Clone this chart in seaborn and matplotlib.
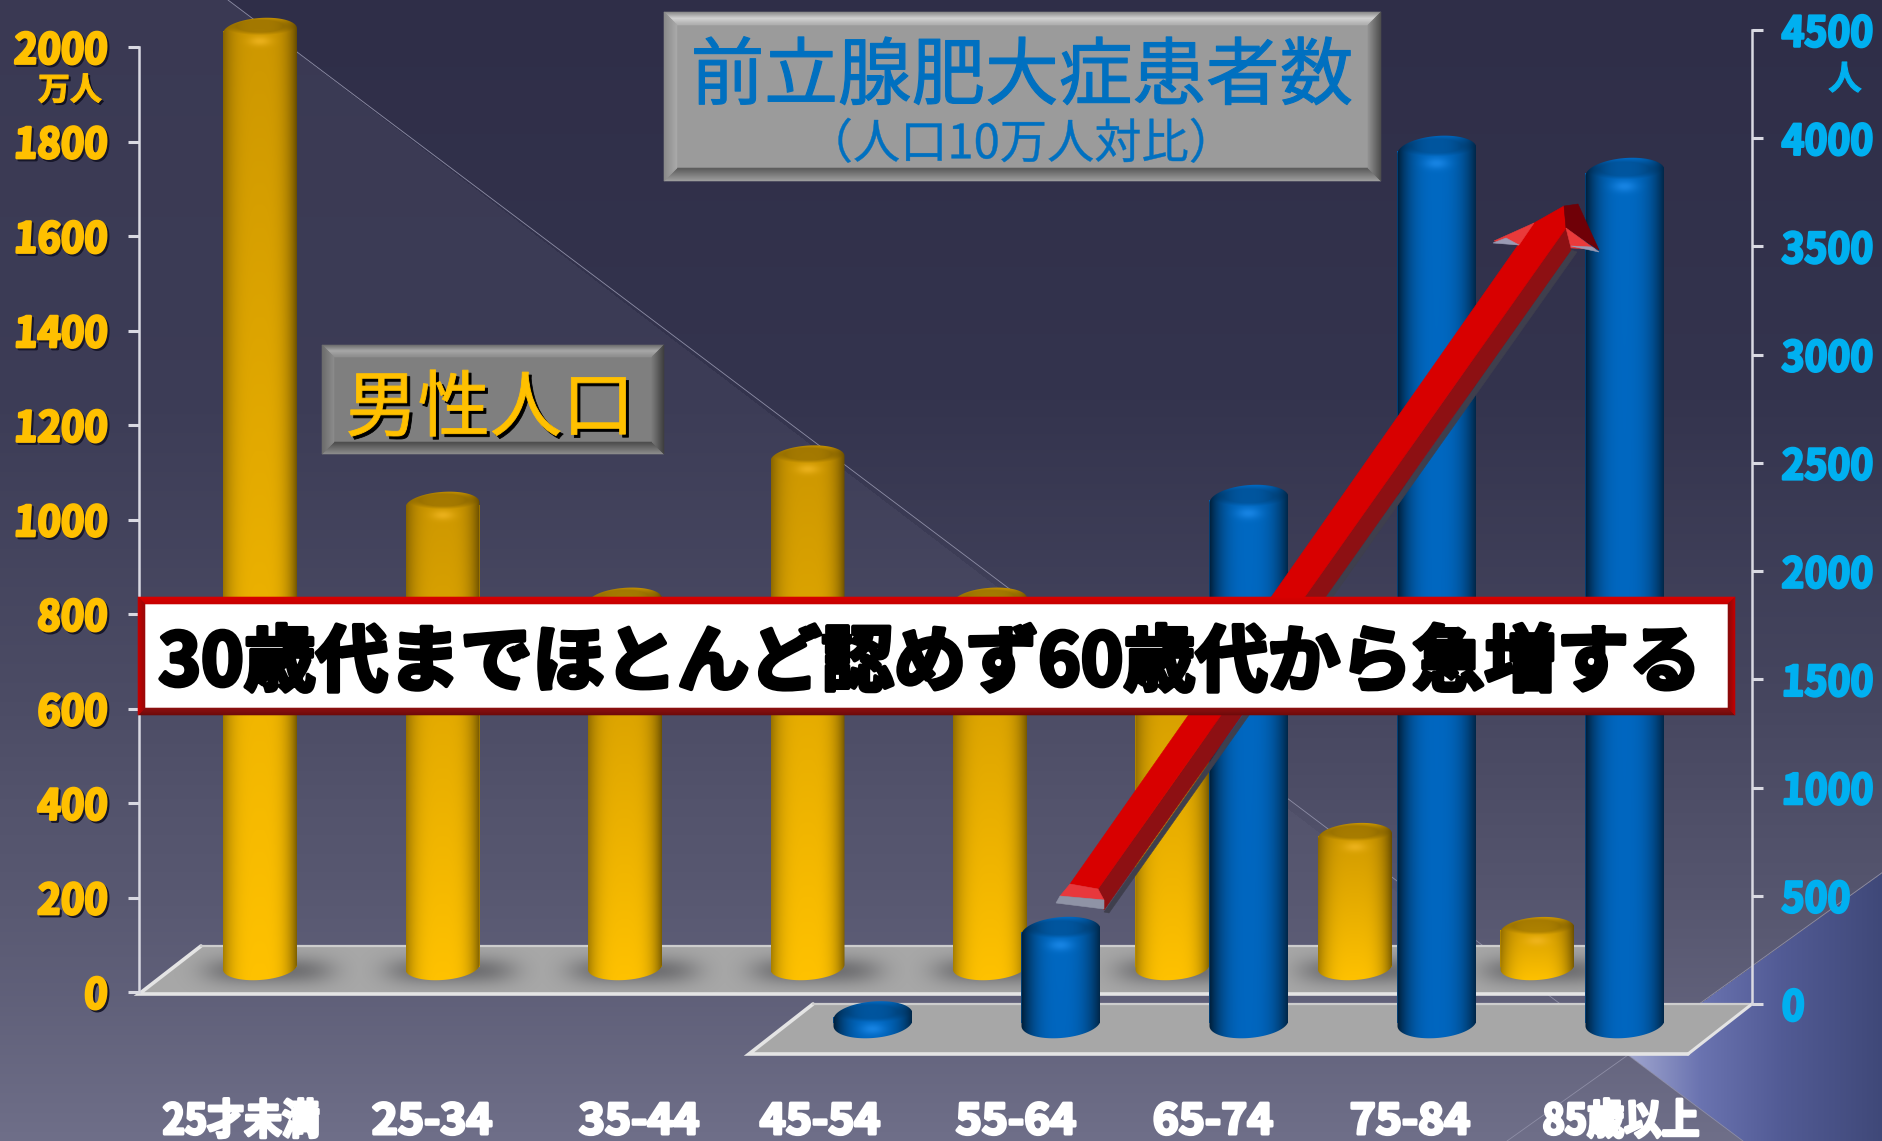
import numpy as np
import pandas as pd
import matplotlib
matplotlib.use("Agg")
import matplotlib.pyplot as plt
import seaborn as sns
from matplotlib.patches import Polygon, PathPatch, Rectangle
from matplotlib.path import Path
from matplotlib.patheffects import AbstractPathEffect
from matplotlib.transforms import Affine2D

# ---- data -------------------------------------------------------------
age_groups = ["25才未満", "25-34", "35-44", "45-54", "55-64", "65-74", "75-84", "85歳以上"]
male_population = [1981, 978, 775, 1076, 775, 680, 277, 78]          # 万人
patient_rate = [np.nan, np.nan, np.nan, 30, 420, 2416, 4029, 3927]   # 人 / 10万人
population_ticks = list(range(0, 2001, 200))
rate_ticks = list(range(0, 4501, 500))
age_label_x = [241, 432, 639, 820, 1016, 1213, 1410, 1621]

title_text = "前立腺肥大症患者数"
subtitle_text = "（人口10万人対比）"
population_box_text = "男性人口"
banner_text = "30歳代までほとんど認めず60歳代から急増する"

# ---- canvas -----------------------------------------------------------
W, H = 1883, 1141
CJK = "Noto Sans CJK JP"
sns.set_style("white", {"axes.facecolor": "none"})
plt.rcParams["font.family"] = [CJK, "DejaVu Sans"]
fig = plt.figure(figsize=(W / 100, H / 100), dpi=100)


class Glyphs(AbstractPathEffect):
    """Redraws text outlines condensed, slanted, thickened or offset."""

    def __init__(self, sx=1.0, skew=0.0, lw=0.0, color=None, dx=0.0, dy=0.0, anchor="center"):
        self.sx, self.skew, self.lw, self.color = sx, skew, lw, color
        self.dx, self.dy, self.anchor = dx, dy, anchor

    def draw_path(self, renderer, gc, tpath, affine, rgbFace=None):
        ext = tpath.get_extents()
        a = {"left": ext.x0, "right": ext.x1, "center": (ext.x0 + ext.x1) / 2}[self.anchor]
        local = Affine2D().translate(-a, 0).scale(self.sx, 1).skew_deg(self.skew, 0).translate(a, 0)
        trans = local + affine + Affine2D().translate(self.dx, self.dy)
        face = rgbFace if self.color is None else matplotlib.colors.to_rgba(self.color)
        g = renderer.new_gc()
        g.copy_properties(gc)
        g.set_linewidth(self.lw)
        g.set_foreground(face)
        g.set_joinstyle("round")
        renderer.draw_path(g, tpath, trans, face)
        g.restore()


def pixel_axes(z):
    ax = fig.add_axes([0, 0, 1, 1], zorder=z)
    ax.set_xlim(0, W)
    ax.set_ylim(H, 0)
    ax.set_axis_off()
    return ax


def hex_rgb(c):
    return np.array(matplotlib.colors.to_rgb(c))


# ---- backdrop ---------------------------------------------------------
ax_bg = pixel_axes(0)
yy, xx = np.mgrid[0:H, 0:W]
stops_y = [0, 400, 700, 900, 1141]
stops_c = np.array([hex_rgb(c) for c in ["#2f2e48", "#34344e", "#46465f", "#56566f", "#6f6f89"]])
bg = np.dstack([np.interp(yy, stops_y, stops_c[:, i]) for i in range(3)])
left_of_diagonal = xx < 228 + yy / 0.763
lift = np.interp(yy, [0, 800, 1000], [0.045, 0.02, 0.0])
bg[left_of_diagonal] += lift[left_of_diagonal][:, None]
apex_x, apex_y = 1628, 1055
corner = (yy >= apex_y - (xx - apex_x) * 183 / 255) & (xx >= apex_x + (yy - apex_y) * 115 / 86)
corner_c = np.dstack([np.interp(xx, [1628, 1700, 1780, 1883],
                                [hex_rgb(c)[i] for c in ["#a0a6cf", "#6a73b0", "#525b95", "#3f4878"]])
                      for i in range(3)])
bg[corner] = corner_c[corner]
ax_bg.imshow(np.clip(bg, 0, 1), extent=(0, W, H, 0), aspect="auto", zorder=0)
for seg in [((228, 0), (apex_x, apex_y)), ((apex_x, apex_y), (1883, 872)),
            ((apex_x, apex_y), (1743, 1141)), ((apex_x, apex_y), (1507, 1141))]:
    ax_bg.plot(*zip(*seg), color="#8e8ea6", lw=0.6, zorder=1)


def floor(ax, pts, z=2):
    ax.add_patch(Polygon(pts, closed=True, fc="#a7a7a7", ec="none", zorder=z))
    bl, br, fr, fl = pts
    ax.plot([bl[0], fl[0], fr[0]], [bl[1], fl[1], fr[1]], color="#e4e4e4", lw=2.6, zorder=z + 1,
            solid_joinstyle="miter")
    ax.plot([bl[0], br[0]], [bl[1], br[1]], color="#cdcdcd", lw=1.6, zorder=z + 1)
    ax.plot([br[0], fr[0]], [br[1], fr[1]], color="#e4e4e4", lw=2.2, zorder=z + 1)


back_floor = [(201, 946), (1625, 946), (1600, 994), (139, 994)]
floor(ax_bg, back_floor)

# ---- left scale -------------------------------------------------------
spine_c = "#d9d9e2"
POP_Y0, POP_TOP = 992, 47
ax_pop_scale = fig.add_axes([139 / W, (H - POP_Y0) / H, 20 / W, (POP_Y0 - POP_TOP) / H], zorder=1)
ax_pop_scale.set_ylim(0, 2000)
ax_pop_scale.set_xticks([])
ax_pop_scale.set_yticks(population_ticks)
ax_pop_scale.tick_params(axis="y", left=True, length=8, width=2.2, color=spine_c, pad=15,
                         labelsize=30, labelcolor="#ffc000")
sns.despine(ax=ax_pop_scale, bottom=True)
ax_pop_scale.spines["left"].set_color(spine_c)
ax_pop_scale.spines["left"].set_linewidth(1.8)
for lab in ax_pop_scale.get_yticklabels():
    lab.set_fontweight("bold")
    lab.set_path_effects([Glyphs(0.95, 3, 2.0, "#17172a", 2, -2, "right"),
                          Glyphs(0.95, 3, 2.0, None, 0, 0, "right")])

# ---- right scale ------------------------------------------------------
RATE_Y0, RATE_TOP = 1004, 30
ax_rate_scale = fig.add_axes([1732 / W, (H - RATE_Y0) / H, 20 / W, (RATE_Y0 - RATE_TOP) / H], zorder=6)
ax_rate_scale.set_ylim(0, 4500)
ax_rate_scale.set_xticks([])
ax_rate_scale.set_yticks(rate_ticks)
sns.despine(ax=ax_rate_scale, left=True, right=False, top=True, bottom=True)
ax_rate_scale.tick_params(axis="y", left=False, right=True, labelleft=False, labelright=True,
                          length=8, width=2.2, color=spine_c, pad=13, labelsize=30, labelcolor="#00b0f0")
ax_rate_scale.spines["right"].set_color(spine_c)
ax_rate_scale.spines["right"].set_linewidth(1.8)
for lab in ax_rate_scale.get_yticklabels():
    lab.set_fontweight("bold")
    lab.set_path_effects([Glyphs(0.93, 2, 1.8, None, 0, 0, "left")])

# ---- cylinders --------------------------------------------------------
pop_scale = (POP_Y0 - POP_TOP) / 2000
rate_scale = (RATE_Y0 - RATE_TOP) / 4500


def bar_axes(x0_px, step_px, base_px, scale, z):
    left = x0_px - step_px / 2
    ax = fig.add_axes([left / W, 0, 8 * step_px / W, 1], zorder=z)
    return ax, (-0.5, 7.5), ((base_px - H) / scale, base_px / scale)


def cylinder(ax, bar, scale, ry_px, tilt_px, top_c, bottom_c, cap_gain, hi_c, al, ar, power):
    x0, w, v = bar.get_x(), bar.get_width(), bar.get_height()
    xc = x0 + w / 2
    ry, tilt = ry_px / scale, tilt_px / scale
    t = np.linspace(0, np.pi, 48)
    top_x = xc - w / 2 * np.cos(t)
    top_y = v + ry * np.sin(t) - tilt * np.cos(t)
    bot_x = xc + w / 2 * np.cos(t)
    bot_y = -ry * np.sin(t) + tilt * np.cos(t)
    verts = np.vstack([np.c_[top_x, top_y], np.c_[bot_x, bot_y], [[top_x[0], top_y[0]]]])
    outline = PathPatch(Path(verts, closed=True), transform=ax.transData, fc="none", ec="none")

    y_hi, y_lo = v + ry + tilt, -ry - tilt
    ny = max(int((y_hi - y_lo) * scale), 8)
    u = np.linspace(-1, 1, 120)
    Y = np.linspace(y_hi, y_lo, ny)
    U, YY = np.meshgrid(u, Y)
    frac = ((y_hi - YY) / (y_hi - y_lo))[..., None]
    rgb = np.asarray(top_c) * (1 - frac) + np.asarray(bottom_c) * frac
    shade = 1 - al * np.clip(-U, 0, 1) ** power - ar * np.clip(U, 0, 1) ** power
    rgb = rgb * shade[..., None]
    r = np.sqrt((U / 0.85) ** 2 + ((YY - (v + 0.3 * ry)) / (0.62 * ry)) ** 2)
    rgb = rgb * (1 - cap_gain * np.clip((1.15 - r) / 0.4, 0, 1))[..., None]
    glow = 0.75 * np.exp(-(U / 0.3) ** 2 - ((YY - (v - 0.85 * ry)) / (0.38 * ry)) ** 2)[..., None]
    rgb = rgb * (1 - glow) + np.asarray(hi_c) * glow
    im = ax.imshow(np.clip(rgb, 0, 1), extent=(x0, x0 + w, y_lo, y_hi), aspect="auto",
                   interpolation="bilinear", zorder=5)
    im.set_clip_path(outline)


# male population bars
ax_pop, pop_xlim, pop_ylim = bar_axes(260, 182.5, 967, pop_scale, 2)
pop_df = pd.DataFrame({"age": age_groups, "population": male_population})
sns.barplot(data=pop_df, x="age", y="population", order=age_groups, color="#c89600",
            saturation=1, width=74 / 182.5, linewidth=0, ax=ax_pop)
pop_bars = [p for p in ax_pop.patches if np.isfinite(p.get_height())]
for bar in pop_bars:
    bar.set_edgecolor("none")
    cylinder(ax_pop, bar, pop_scale, 13, 2.5, (0.80, 0.59, 0.0), (1.0, 0.76, 0.0),
             0.2, (0.95, 0.72, 0.14), 0.34, 0.5, 3.5)
ax_pop.set_xlim(*pop_xlim)
ax_pop.set_ylim(*pop_ylim)
ax_pop.set_axis_off()

# soft contact shadows on the back floor
fx, fy = np.meshgrid(np.arange(139, 1640), np.arange(940, 1000))
shadow = np.zeros(fx.shape)
for bar in pop_bars:
    cx = ax_pop.transData.transform((bar.get_x() + bar.get_width() / 2, 0))[0]
    shadow = np.maximum(shadow, 0.5 * np.exp(-np.abs((fx - cx - 8) / 64) ** 4 - ((fy - 970) / 14) ** 2))
shadow_img = np.dstack([np.full(fx.shape, 0.22), np.full(fx.shape, 0.22), np.full(fx.shape, 0.24), shadow])
im_shadow = ax_bg.imshow(shadow_img, extent=(139, 1640, 1000, 940), aspect="auto", zorder=2.5)
im_shadow.set_clip_path(PathPatch(Path(back_floor + [back_floor[0]], closed=True), transform=ax_bg.transData))
ax_bg.set_xlim(0, W)
ax_bg.set_ylim(H, 0)

# front floor sits ahead of the population bars
ax_mid = pixel_axes(3)
floor(ax_mid, [(813, 1004), (1752, 1004), (1688, 1054), (749, 1054)])

# patient rate bars
ax_rate, rate_xlim, rate_ylim = bar_axes(309, 188, 1023, rate_scale, 4)
rate_df = pd.DataFrame({"age": age_groups, "rate": patient_rate})
sns.barplot(data=rate_df, x="age", y="rate", order=age_groups, color="#0060b4",
            saturation=1, width=79 / 188, linewidth=0, ax=ax_rate)
for bar in [p for p in ax_rate.patches if np.isfinite(p.get_height())]:
    bar.set_edgecolor("none")
    cylinder(ax_rate, bar, rate_scale, 15, 3, (0.0, 0.41, 0.76), (0.0, 0.40, 0.75),
             0.18, (0.12, 0.55, 0.93), 0.72, 0.62, 2.6)
ax_rate.set_xlim(*rate_xlim)
ax_rate.set_ylim(*rate_ylim)
ax_rate.set_axis_off()

# ---- annotations ------------------------------------------------------
ax_top = pixel_axes(5)


def bevel_box(x0, y0, x1, y1, t, face, top, bottom, left, right, z=10):
    """Raised panel: a flat face ringed by four graded, mitred edges."""
    ax_top.add_patch(Rectangle((x0, y0), x1 - x0, y1 - y0, fc=face, ec="none", zorder=z))
    n = max(int(t), 1)
    for k in range(n):
        a, b = k * t / n, (k + 1) * t / n
        f = k / max(n - 1, 1)
        sides = [
            (top, [(x0 + a, y0 + a), (x1 - a, y0 + a), (x1 - b, y0 + b), (x0 + b, y0 + b)]),
            (bottom, [(x0 + a, y1 - a), (x1 - a, y1 - a), (x1 - b, y1 - b), (x0 + b, y1 - b)]),
            (left, [(x0 + a, y0 + a), (x0 + a, y1 - a), (x0 + b, y1 - b), (x0 + b, y0 + b)]),
            (right, [(x1 - a, y0 + a), (x1 - a, y1 - a), (x1 - b, y1 - b), (x1 - b, y0 + b)]),
        ]
        for ramp, pts in sides:
            col = [np.interp(f, np.linspace(0, 1, len(ramp)), [hex_rgb(c)[i] for c in ramp]) for i in range(3)]
            ax_top.add_patch(Polygon(pts, closed=True, fc=col, ec=col, lw=0.4, zorder=z + 0.1))


# rising arrow, under the banner
arrow_parts = [
    ("#3f3f4d", [(1104, 912), (1109, 913), (1577, 252), (1571, 250)]),
    ("#8d1013", [(1098, 889), (1566, 228), (1571, 250), (1104, 910)]),
    ("#d80000", [(1070, 884), (1523, 238), (1534, 223), (1564, 206), (1566, 228), (1098, 889)]),
    ("#6f0007", [(1564, 206), (1578, 204), (1599, 250), (1566, 228)]),
    ("#ea3a3a", [(1494, 241), (1534, 223), (1519, 245)]),
    ("#ea3a3a", [(1566, 228), (1595, 249), (1571, 248)]),
    ("#9a9ab4", [(1493, 243), (1506, 238), (1519, 245)]),
    ("#9a9ab4", [(1571, 246), (1592, 247), (1599, 252)]),
    ("#e8383c", [(1070, 884), (1098, 889), (1104, 900), (1060, 896)]),
    ("#8f93a6", [(1060, 896), (1104, 900), (1104, 909), (1056, 903)]),
]
for col, pts in arrow_parts:
    ax_top.add_patch(Polygon(pts, closed=True, fc=col, ec=col, lw=0.4, zorder=8))

# title panel
bevel_box(664, 12, 1381, 181, 13, "#9b9b9b",
          ["#8c8c8c", "#d2d2d2", "#b0b0b0"], ["#9d9d9d", "#5d5d5d"], ["#8a8a8a", "#a8a8a8"], ["#4e4e4e", "#8e8e8e"])
ax_top.text(1022, 78, title_text, color="#0070c0", fontsize=53, ha="center", va="center",
            family=CJK, zorder=12, path_effects=[Glyphs(1.0, 0, 0.8, None)])
ax_top.text(1021, 145, subtitle_text, color="#0070c0", fontsize=34, ha="center", va="center",
            family=CJK, zorder=12, path_effects=[Glyphs(1.0, 0, 0.3, None)])

# population panel
bevel_box(322, 345, 664, 454, 12, "#7f7f7f",
          ["#6f6f6f", "#a8a8a8", "#8f8f8f"], ["#8c8c8c", "#4e4e4e"], ["#6c6c6c", "#8a8a8a"], ["#3f3f3f", "#777777"])
ax_top.text(490, 410, population_box_text, color="#ffc000", fontsize=52, ha="center", va="center",
            family=CJK, zorder=12,
            path_effects=[Glyphs(1.0, 0, 0.6, "#000000", 3, -3), Glyphs(1.0, 0, 0.6, None)])

# banner
bevel_box(138, 597, 1735, 715, 7, "#ffffff",
          ["#d80000", "#c80000"], ["#6f0a0a", "#8a0f0f"], ["#c40000", "#9c0808"], ["#c40000", "#8a0a0a"])
ax_top.text(930, 664, banner_text, color="#000000", fontsize=52, fontweight="bold", ha="center",
            va="center", family=CJK, zorder=12, path_effects=[Glyphs(1.0, 0, 3.0, None)])

# category captions and unit marks
for label, x in zip(age_groups, age_label_x):
    ax_top.text(x, 1122, label, color="#ffffff", fontsize=30, fontweight="bold", ha="center", va="center",
                family=CJK, zorder=12, path_effects=[Glyphs(1.06 if "-" in label else 0.9, 0, 2.2, None)])
ax_top.text(70, 91, "万人", color="#ffc000", fontsize=23, fontweight="bold", ha="center", va="center",
            family=CJK, zorder=12,
            path_effects=[Glyphs(1.0, 0, 0.8, "#111122", 2, -2), Glyphs(1.0, 0, 0.8, None)])
ax_top.text(1845, 80, "人", color="#00b0f0", fontsize=24, fontweight="bold", ha="center", va="center",
            family=CJK, zorder=12, path_effects=[Glyphs(1.0, 0, 0.8, None)])

fig.savefig("out.png", dpi=100)
